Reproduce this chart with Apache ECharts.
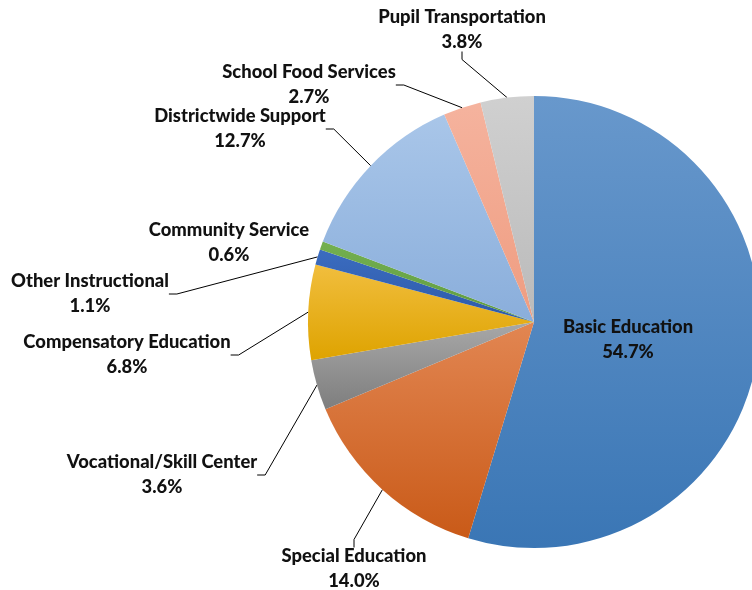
<!DOCTYPE html>
<html>
<head>
<meta charset="utf-8">
<script src="https://cdn.jsdelivr.net/npm/echarts@6/dist/echarts.min.js"></script>
<style>
html,body{margin:0;padding:0;background:#fff;}
#chart{width:752px;height:590px;}
</style>
</head>
<body>
<div id="chart"></div>
<script>
// Data
var categories = ['Basic Education','Special Education','Vocational/Skill Center','Compensatory Education','Other Instructional','Community Service','Districtwide Support','School Food Services','Pupil Transportation'];
var shares = [54.7, 14.0, 3.6, 6.8, 1.1, 0.6, 12.7, 2.7, 3.8];

// Styling (colors: top, bottom of gradient)
var sliceColors = [
  ['#6898cc','#3a76b5'],
  ['#e28652','#c95a18'],
  ['#a8a8a8','#7e7e7e'],
  ['#f1be3e','#dea300'],
  ['#3b6cc0','#2d5aa8'],
  ['#74b050','#5e9a40'],
  ['#a9c6e9','#8aaedb'],
  ['#f5b39e','#ef9c80'],
  ['#d0d0d0','#bababa']
];
// label box centres
var labelCentres = [
  [628, 340],
  [354, 569],
  [162, 475],
  [127, 355],
  [90, 294],
  [229, 243],
  [240, 129],
  [309, 85],
  [462, 30]
];

var chart = echarts.init(document.getElementById('chart'), null, {renderer:'canvas'});
var data = categories.map(function(c, i){
  return {
    name: c,
    value: shares[i],
    itemStyle: {
      color: new echarts.graphic.LinearGradient(0,0,0,1,[
        {offset:0,color:sliceColors[i][0]},
        {offset:1,color:sliceColors[i][1]}
      ])
    },
    labelLine: {show: i !== 0 && i !== 5}
  };
});

chart.setOption({
  animation: false,
  backgroundColor: '#ffffff',
  series: [{
    type: 'pie',
    center: [534, 322],
    radius: [0, 226],
    startAngle: 90,
    clockwise: true,
    avoidLabelOverlap: false,
    data: data,
    itemStyle: {borderWidth: 0},
    label: {
      show: true,
      position: 'outside',
      formatter: function(p){ return '{a|' + p.name + '}\n{a|' + p.value.toFixed(1) + '%}'; },
      rich: {
        a: {fontFamily: 'Lato', fontWeight: 900, fontSize: 18.4, lineHeight: 25, color: '#111111', align: 'center'}
      }
    },
    labelLine: {
      show: true,
      length: 10,
      length2: 8,
      smooth: false,
      lineStyle: {color: '#000000', width: 1}
    },
    labelLayout: function(params){
      var c = labelCentres[params.dataIndex];
      return {x: c[0], y: c[1], align: 'center', verticalAlign: 'middle'};
    }
  }]
});
</script>
</body>
</html>
